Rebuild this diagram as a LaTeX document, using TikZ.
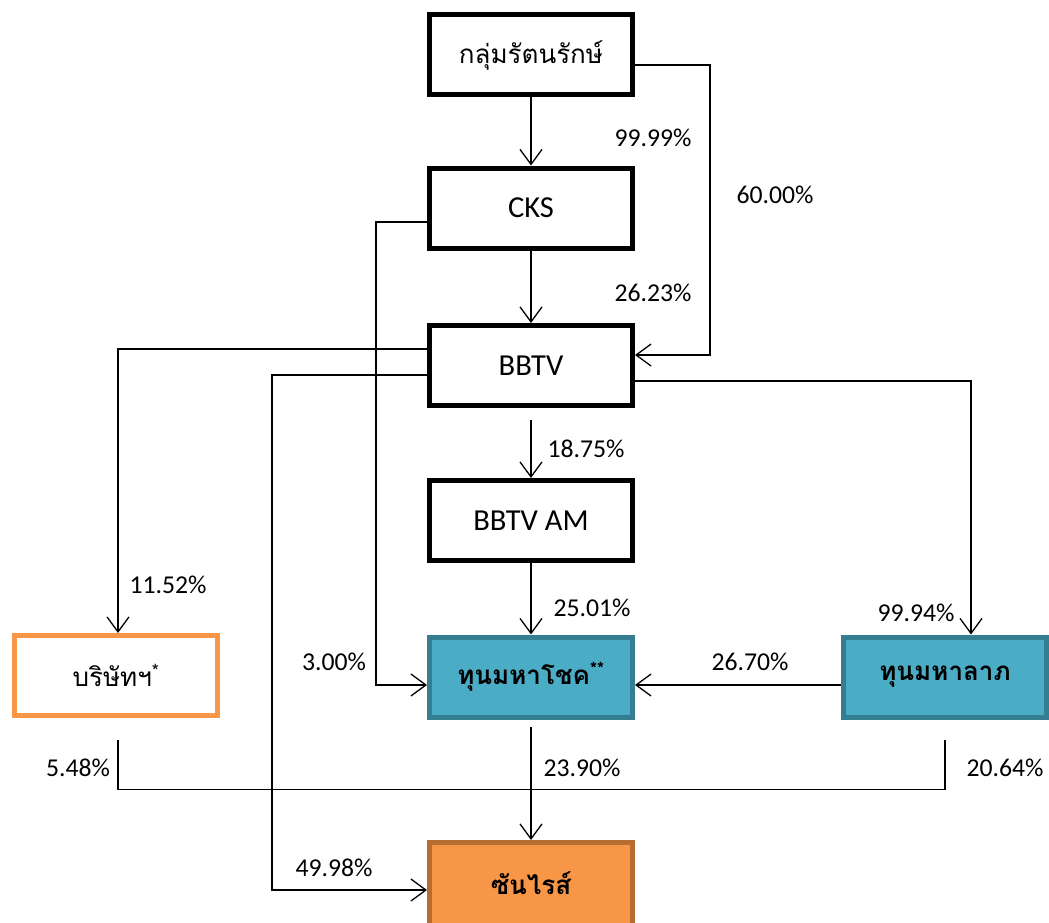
\documentclass[tikz,border=0pt]{standalone}
\usepackage{fontspec}
\setmainfont{Carlito}
\newfontfamily\thaifont[Script=Thai]{Loma}
\usetikzlibrary{arrows.meta}
\definecolor{C1}{RGB}{75,172,198}
\definecolor{C2}{RGB}{53,125,145}
\definecolor{C3}{RGB}{247,150,70}
\definecolor{C4}{RGB}{182,109,49}

\begin{document}
\begin{tikzpicture}[x=1pt, y=-1pt,
    box/.style={draw, line width=5pt, minimum width=203pt, minimum height=80pt,
      inner sep=0pt, font=\fontsize{30.5}{32}\selectfont},
    thai/.style={font=\thaifont\fontsize{26}{30}\selectfont},
    fund/.style={box, thai, fill=C1, draw=C2, font=\thaifont\bfseries\fontsize{26}{30}\selectfont},
    pct/.style={inner sep=0pt, font=\fontsize{25.7}{28}\selectfont},
    arr/.style={-{Straight Barb[length=15pt,width=22pt]}, line width=1.3pt},
    link/.style={line width=1.3pt}]
  \useasboundingbox (0,0) rectangle (1049,923);

  % boxes
  \node[box, thai] (ratta) at (531,55) {กลุ่มรัตนรักษ์};
  \node[box] (cks) at (531,208) {CKS};
  \node[box] (bbtv) at (531,365.5) {BBTV};
  \node[box] (bbtvam) at (531,520.5) {BBTV AM};
  \node[box, thai, draw=C3] (company) at (116,675.5) {บริษัทฯ\textsuperscript{*}};
  \node[fund] (choke) at (531,677) {ทุนมหาโชค\textsuperscript{**}};
  \node[fund] (larp) at (945,677) {ทุนมหาลาภ};
  \node[box, fill=C3, draw=C4, minimum height=95pt, text depth=14pt,
    font=\thaifont\bfseries\fontsize{26}{30}\selectfont] (sunrise) at (531,890) {ซันไรส์};

  % connectors
  \draw[arr] (ratta) -- (cks);
  \draw[arr] ([yshift=-10pt]ratta.east) -- ++(75,0) |- ([yshift=10.5pt]bbtv.east);
  \draw[arr] (cks) -- (bbtv);
  \draw[arr] ([yshift=-14pt]cks.west) -- ++(-51,0) |- ([yshift=-8pt]choke.west);
  \draw[arr] ([yshift=16.5pt]bbtv.west) -| ([xshift=2pt]company.north);
  \draw[arr] ([yshift=-9.5pt]bbtv.west) -- ++(-155,0) |- (sunrise.west);
  \draw[arr] ([yshift=-15.5pt]bbtv.east) -| ([xshift=26pt]larp.north);
  \draw[arr, shorten <=12pt] (bbtv) -- (bbtvam);
  \draw[arr] (bbtvam) -- (choke);
  \draw[arr] ([yshift=-8pt]larp.west) -- ([yshift=-8pt]choke.east);
  \draw[arr, shorten <=7pt] (choke) -- (sunrise);
  \draw[link] ([xshift=2pt, yshift=-22pt]company.south) |- ([yshift=-70pt]larp.south) -- ([yshift=-20pt]larp.south);

  % percentages
  \node[pct] (p1) at (653,138) {99.99\%};
  \node[pct] (p2) at (775,195) {60.00\%};
  \node[pct] (p3) at (653,293) {26.23\%};
  \node[pct] (p4) at (586,449) {18.75\%};
  \node[pct] (p5) at (168,585) {11.52\%};
  \node[pct] (p6) at (592,608) {25.01\%};
  \node[pct] (p7) at (916,613) {99.94\%};
  \node[pct] (p8) at (334,662) {3.00\%};
  \node[pct] (p9) at (750,662) {26.70\%};
  \node[pct] (p10) at (78,768) {5.48\%};
  \node[pct] (p11) at (582,768) {23.90\%};
  \node[pct] (p12) at (1005,768) {20.64\%};
  \node[pct] (p13) at (334,868) {49.98\%};
\end{tikzpicture}
\end{document}
